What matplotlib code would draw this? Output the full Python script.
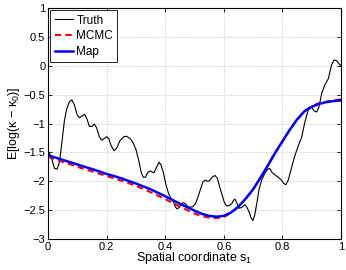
import matplotlib
matplotlib.use("Agg")
import matplotlib.pyplot as plt
from matplotlib.ticker import FuncFormatter

# Truth curve
truth_x = [0.0, 0.01, 0.022, 0.031, 0.039, 0.048, 0.056, 0.064, 0.073, 0.081, 0.090, 0.099,
           0.107, 0.116, 0.124, 0.132, 0.141, 0.150, 0.158, 0.166, 0.175, 0.183, 0.192, 0.2,
           0.207, 0.215, 0.225, 0.235, 0.245, 0.258, 0.268, 0.28, 0.29, 0.3, 0.31, 0.318,
           0.325, 0.332, 0.34, 0.348, 0.355, 0.362, 0.37, 0.379, 0.386, 0.394, 0.402, 0.411,
           0.42, 0.428, 0.435, 0.441, 0.448, 0.455, 0.462, 0.47, 0.478, 0.485, 0.494, 0.502,
           0.51, 0.519, 0.528, 0.536, 0.544, 0.551, 0.56, 0.57, 0.578, 0.585, 0.593, 0.602,
           0.610, 0.618, 0.627, 0.633, 0.638, 0.645, 0.653, 0.662, 0.672, 0.679, 0.686, 0.693,
           0.699, 0.705, 0.712, 0.72, 0.729, 0.74, 0.75, 0.757, 0.765, 0.78, 0.795, 0.805,
           0.812, 0.82, 0.832, 0.84, 0.849, 0.866, 0.877, 0.888, 0.898, 0.908, 0.917, 0.925,
           0.934, 0.945, 0.957, 0.968, 0.976, 0.985, 0.994, 1.0]
truth_y = [-1.46, -1.57, -1.78, -1.79, -1.66, -1.29, -0.94, -0.74, -0.62, -0.59, -0.68, -0.85,
           -0.90, -0.87, -0.84, -0.91, -1.05, -1.05, -1.01, -1.08, -1.23, -1.29, -1.26, -1.23,
           -1.26, -1.38, -1.47, -1.42, -1.30, -1.23, -1.22, -1.26, -1.33, -1.45, -1.65, -1.85,
           -1.93, -1.93, -1.85, -1.82, -1.84, -1.85, -1.76, -1.67, -1.72, -1.86, -2.05, -2.21,
           -2.30, -2.36, -2.45, -2.48, -2.45, -2.39, -2.37, -2.40, -2.44, -2.45, -2.44, -2.40,
           -2.30, -2.16, -2.02, -1.98, -2.00, -1.99, -1.93, -1.90, -1.95, -2.08, -2.22, -2.37,
           -2.43, -2.42, -2.39, -2.33, -2.31, -2.38, -2.47, -2.45, -2.41, -2.45, -2.53, -2.63,
           -2.68, -2.60, -2.40, -2.15, -1.98, -1.86, -1.79, -1.78, -1.85, -1.91, -1.97, -2.04,
           -2.06, -1.98, -1.75, -1.60, -1.46, -1.23, -0.97, -0.77, -0.71, -0.78, -0.80, -0.71,
           -0.48, -0.33, -0.22, 0.02, 0.10, 0.09, 0.03, 0.0]

# Smooth estimates
est_x = [0.0, 0.025, 0.05, 0.075, 0.1, 0.125, 0.15, 0.175, 0.2, 0.225, 0.25, 0.275, 0.3,
         0.325, 0.35, 0.375, 0.4, 0.425, 0.45, 0.475, 0.5, 0.525, 0.55, 0.575, 0.6, 0.625,
         0.65, 0.675, 0.7, 0.725, 0.75, 0.775, 0.8, 0.825, 0.85, 0.875, 0.9, 0.925, 0.95,
         0.975, 1.0]
map_y = [-1.55, -1.59, -1.63, -1.67, -1.71, -1.75, -1.79, -1.83, -1.875, -1.91, -1.95, -1.995,
         -2.04, -2.09, -2.14, -2.20, -2.26, -2.325, -2.39, -2.45, -2.51, -2.565, -2.60, -2.615,
         -2.60, -2.54, -2.44, -2.30, -2.14, -1.94, -1.73, -1.51, -1.31, -1.11, -0.93, -0.79,
         -0.71, -0.66, -0.63, -0.61, -0.60]
mcmc_y = [-1.58, -1.62, -1.665, -1.705, -1.75, -1.79, -1.83, -1.87, -1.91, -1.95, -1.99, -2.035,
          -2.08, -2.135, -2.19, -2.25, -2.31, -2.375, -2.44, -2.50, -2.56, -2.605, -2.63, -2.64,
          -2.62, -2.55, -2.445, -2.30, -2.14, -1.94, -1.73, -1.51, -1.31, -1.11, -0.93, -0.785,
          -0.70, -0.65, -0.62, -0.60, -0.58]

x_ticks = [0, 0.2, 0.4, 0.6, 0.8, 1]
y_ticks = [-3, -2.5, -2, -1.5, -1, -0.5, 0, 0.5, 1]

plt.rcParams['font.family'] = ['Liberation Sans', 'DejaVu Sans']
plt.rcParams['mathtext.fontset'] = 'custom'
plt.rcParams['mathtext.rm'] = 'Liberation Sans'
plt.rcParams['mathtext.it'] = 'Liberation Sans:italic'

fig = plt.figure(figsize=(3.46, 2.70), dpi=100)
ax = fig.add_axes([0.139, 0.115, 0.8465, 0.855])

ax.plot(truth_x, truth_y, color='black', lw=0.8, label='Truth')
ax.plot(est_x, mcmc_y, color='red', lw=1.5, ls=(0, (3, 2)), label='MCMC')
ax.plot(est_x, map_y, color='blue', lw=1.8, label='Map')

ax.set_xlim(0, 1)
ax.set_ylim(-3, 1)
ax.set_xticks(x_ticks)
ax.set_yticks(y_ticks)
fmt = FuncFormatter(lambda v, p: ('%g' % v).replace('-', '\u2212'))
ax.xaxis.set_major_formatter(fmt)
ax.yaxis.set_major_formatter(fmt)
ax.tick_params(direction='in', length=3, width=0.6, labelsize=8, top=True, right=True, pad=2)
ax.grid(True, ls=(0, (1, 2)), color='#b0b0b0', lw=0.6)
for s in ax.spines.values():
    s.set_linewidth(0.8)

ax.set_xlabel(r'Spatial coordinate $\mathregular{s_1}$', fontsize=9, labelpad=-1)
ax.set_ylabel(r'E[log(κ − $\mathregular{κ_0}$)]', fontsize=9, labelpad=1)

leg = ax.legend(loc='upper left', fontsize=8.5, handlelength=1.6, handletextpad=0.25,
                borderaxespad=0.2, borderpad=0.35, labelspacing=0.3, fancybox=False,
                framealpha=1, edgecolor='black')
leg.get_frame().set_linewidth(0.6)

fig.savefig('out.png', dpi=100)
